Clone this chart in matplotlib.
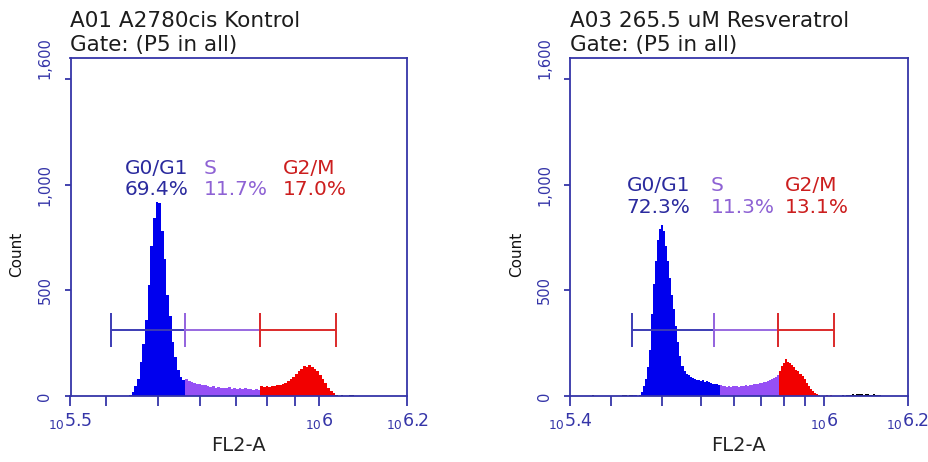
import numpy as np
import matplotlib.pyplot as plt
from matplotlib.ticker import FixedLocator, FixedFormatter, NullFormatter

# channel width of the histograms, in decades of FL2-A
bin_width = 0.005

left_title = 'A01 A2780cis Kontrol'
right_title = 'A03 265.5 uM Resveratrol'
gate_title = 'Gate: (P5 in all)'

# left histogram, first channel starts at 10^5.64
left_start = 5.640
left_counts = [0, 5, 18, 45, 82, 160, 246, 358, 525, 711, 841, 920, 915, 780, 650, 478,
               380, 255, 185, 125, 92, 78,
               80, 72, 68, 62, 58, 55, 50, 52, 46, 44, 48, 40, 42, 38, 40, 36, 41, 35,
               38, 34, 37, 33, 36, 32, 34, 30, 33, 30,
               45, 42, 46, 44, 48, 46, 50, 52, 56, 62, 70, 80, 92, 105, 118, 128, 140,
               138, 147, 135, 130, 120, 100, 80, 60, 40, 24, 12, 5,
               0, 4, 0, 0, 5, 3, 0]

# right histogram, first channel starts at 10^5.42
right_start = 5.420
right_counts = [0, 0, 3, 0, 0, 0, 0, 0, 0, 0, 0, 0, 0, 0, 0, 0, 0, 4, 3, 0, 5, 6, 4, 5,
                2, 4, 20, 45, 80, 135, 220, 390, 530, 640, 740, 790, 809, 780, 710, 640,
                560, 480, 410, 330, 257, 190, 140, 120, 105, 98, 90, 85, 80, 76, 78, 72,
                74, 68, 70, 64, 62, 58, 55, 55, 52,
                50, 46, 48, 44, 47, 44, 48, 45, 47, 44, 48, 46, 50, 47, 50, 52, 55, 58,
                56, 62, 60, 66, 68, 70, 74, 80, 86, 92, 100,
                118, 140, 155, 174, 160, 155, 145, 135, 125, 118, 105, 95, 82, 62, 48,
                34, 24, 15, 8, 4, 2,
                0, 0, 3, 0, 3, 0, 0, 0, 0, 0, 4, 0, 5, 6, 4, 8, 6, 10, 8, 10, 6, 8, 10,
                4, 6, 8, 3, 5, 3, 2]

# axis range (log10 FL2-A) and tick labels as printed
left_xlim = (5.536, 6.164)
right_xlim = (5.376, 6.206)
left_xlabels = ['5.5', '6', '6.2']
right_xlabels = ['5.4', '6', '6.2']
left_minor = [4e5, 5e5, 6e5, 7e5, 8e5, 9e5]
right_minor = [3e5, 4e5, 5e5, 6e5, 7e5, 8e5, 9e5]

# marker ranges G0/G1 | S | G2/M (log10 edges)
left_markers = [5.611, 5.750, 5.890, 6.031]
right_markers = [5.529, 5.7305, 5.886, 6.025]
# where the histogram fill changes colour
left_fill_edges = [5.750, 5.890]
right_fill_edges = [5.745, 5.890]

phase_names = ['G0/G1', 'S', 'G2/M']
left_pct = ['69.4%', '11.7%', '17.0%']
right_pct = ['72.3%', '11.3%', '13.1%']

axis_blue = '#3535a8'
fill_cols = ['#0000ee', '#9650f5', '#f20000']
bar_cols = ['#3c3cb4', '#9868e0', '#dc2a2a']
text_cols = ['#2b2b9e', '#8e62d4', '#cc1e1e']


def channel_colour(c, markers, fill_edges):
    if c < markers[0] or c > markers[3]:
        return '#000000'
    if c < fill_edges[0]:
        return fill_cols[0]
    if c < fill_edges[1]:
        return fill_cols[1]
    return fill_cols[2]


def draw_panel(ax, start, counts, xlim, xlabels, minor, markers, fill_edges,
               title, pct, lab_x, lab_y):
    counts = np.array(counts)
    edges = start + bin_width * np.arange(len(counts) + 1)
    centers = edges[:-1] + bin_width / 2
    cols = [channel_colour(c, markers, fill_edges) for c in centers]

    # one filled step outline per run of same-coloured channels
    i0 = 0
    for i in range(1, len(counts) + 1):
        if i == len(counts) or cols[i] != cols[i0]:
            ax.stairs(counts[i0:i], 10 ** edges[i0:i + 1], fill=True,
                      color=cols[i0], linewidth=0)
            i0 = i

    # marker bars
    for i in range(3):
        x0, x1 = 10 ** markers[i], 10 ** markers[i + 1]
        ax.hlines(312, x0, x1, color=bar_cols[i], lw=1.4)
        ax.vlines([x0, x1], 232, 392, color=bar_cols[i], lw=1.4)

    ax.set_xscale('log')
    ax.set_xlim(10 ** xlim[0], 10 ** xlim[1])
    ax.set_ylim(0, 1600)
    ax.xaxis.set_major_locator(FixedLocator([10 ** xlim[0], 1e6, 10 ** xlim[1]]))
    ax.xaxis.set_major_formatter(FixedFormatter(['$_{10}$' + s for s in xlabels]))
    ax.xaxis.set_minor_locator(FixedLocator(minor))
    ax.xaxis.set_minor_formatter(NullFormatter())
    ax.tick_params(axis='x', which='both', length=7.5, width=1.3, color=axis_blue,
                   labelcolor=axis_blue, labelsize=12.5, pad=3)

    ax.set_yticks([0, 500, 1000, 1500])
    ax.set_yticklabels(['0', '500', '1,000', ''])
    ax.set_yticks([1600], minor=True)
    ax.set_yticklabels(['1,600'], minor=True)
    ax.tick_params(axis='y', which='major', length=4.5, width=1.3, color=axis_blue,
                   labelcolor=axis_blue, labelsize=10.5, pad=8.5, labelrotation=90)
    ax.tick_params(axis='y', which='minor', length=0, labelcolor=axis_blue,
                   labelsize=10.5, pad=13, labelrotation=90)
    for lab in ax.get_yticklabels(which='both'):
        lab.set_va('center')

    for sp in ax.spines.values():
        sp.set_color(axis_blue)
        sp.set_linewidth(1.3)

    ax.set_xlabel('FL2-A', fontsize=14, color='#222222', va='top')
    ax.xaxis.set_label_coords(0.5, -0.118)
    ax.set_ylabel('Count', fontsize=11, color='#111111')
    ax.yaxis.set_label_coords(-0.137, 0.42)

    ax.text(0, 1.093, title, transform=ax.transAxes, fontsize=15.5, color='#1c1c1c',
            va='baseline')
    ax.text(0, 1.021, gate_title, transform=ax.transAxes, fontsize=15.5,
            color='#1c1c1c', va='baseline')

    for i in range(3):
        ax.text(lab_x[i], lab_y[0], phase_names[i], transform=ax.transAxes,
                fontsize=14.5, color=text_cols[i], va='baseline')
        ax.text(lab_x[i], lab_y[1], pct[i], transform=ax.transAxes,
                fontsize=14.5, color=text_cols[i], va='baseline')


fig = plt.figure(figsize=(9.29, 4.62), dpi=100)
ax1 = fig.add_axes([70.5 / 929, 66 / 462, 336.5 / 929, 338 / 462])
ax2 = fig.add_axes([570 / 929, 66 / 462, 337.7 / 929, 338 / 462])

draw_panel(ax1, left_start, left_counts, left_xlim, left_xlabels, left_minor,
           left_markers, left_fill_edges, left_title, left_pct,
           [0.162, 0.397, 0.6315], [0.657, 0.595])
draw_panel(ax2, right_start, right_counts, right_xlim, right_xlabels, right_minor,
           right_markers, right_fill_edges, right_title, right_pct,
           [0.168, 0.4175, 0.637], [0.607, 0.541])

fig.savefig('out.png', dpi=100)
